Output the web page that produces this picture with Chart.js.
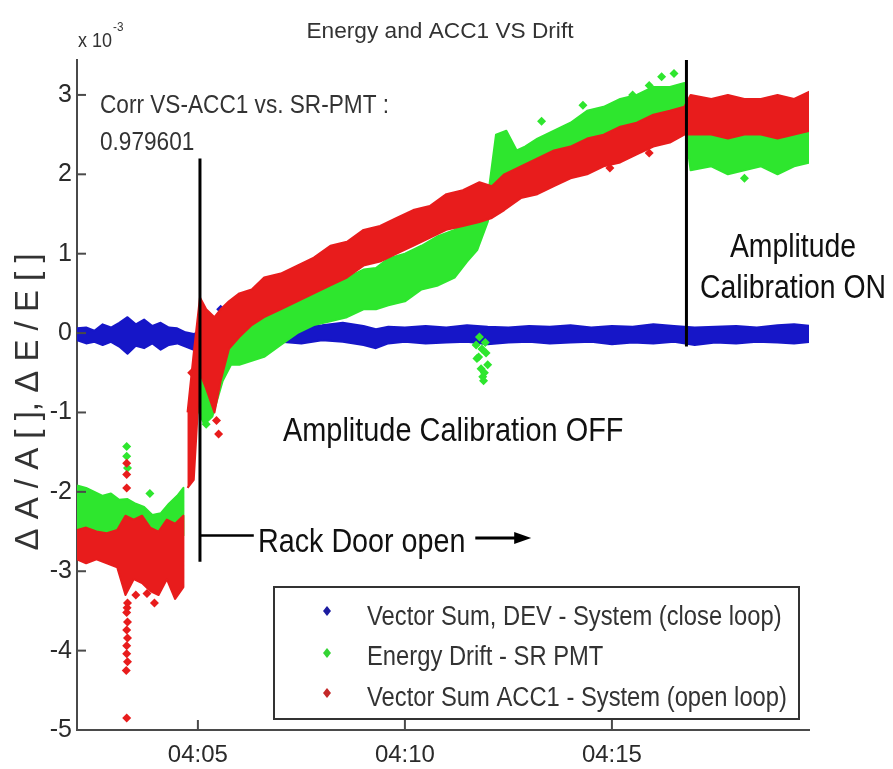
<!DOCTYPE html>
<html>
<head>
<meta charset="utf-8">
<script src="https://cdn.jsdelivr.net/npm/chart.js@4.4.1/dist/chart.umd.min.js"></script>
<style>
html, body { margin: 0; padding: 0; background: #fff; }
#wrap { width: 893px; height: 769px; }
</style>
</head>
<body>
<div id="wrap"><canvas id="drift"></canvas></div>
<script>
// Energy and ACC1 VS Drift — scatter bands drawn with Chart.js

const FONT = '"Liberation Sans", Arial, sans-serif';
Chart.defaults.font.family = FONT;

const BLUE = '#1616c8';
const GREEN = '#2ee62e';
const RED = '#e81c1c';
const INK = '#2a2a2a';
const AXIS = '#4a4a4a';

// x is minutes after 04:00, y is in units of 1e-3
const xTickValues = [5, 10, 15];
const xTickLabels = ['04:05', '04:10', '04:15'];
const yTickValues = [-5, -4, -3, -2, -1, 0, 1, 2, 3];

const seriesLabels = [
    'Vector Sum, DEV - System (close loop)',
    'Energy Drift - SR PMT',
    'Vector Sum ACC1 - System (open loop)'
];
const legendColors = ['#1c1ca0', '#34d434', '#c42828'];

// ── BLUE: Vector Sum, DEV (close loop) ───────────────────────────────────────
const blueT  = [2.08, 2.3, 2.5, 2.7, 2.9, 3.1, 3.3, 3.5, 3.7, 3.9, 4.1, 4.3, 4.5, 4.7, 4.9, 5.2, 5.6, 6.0, 6.5, 7.0, 7.5, 8.0, 8.5, 9.0, 9.3, 9.6, 10.0, 10.5, 11.0, 11.5, 12.0, 12.5, 13.0, 13.5, 14.0, 14.5, 15.0, 15.5, 16.0, 16.5, 17.0, 17.5, 18.0, 18.5, 19.0, 19.4, 19.8];
const blueHi = [0.06, 0.07, 0.03, 0.11, 0.07, 0.13, 0.2, 0.11, 0.17, 0.09, 0.13, 0.07, 0.06, 0.01, -0.01, 0.04, 0.05, 0.06, 0.07, 0.06, 0.08, 0.1, 0.13, 0.09, 0.05, 0.08, 0.07, 0.09, 0.07, 0.1, 0.08, 0.07, 0.09, 0.08, 0.1, 0.07, 0.09, 0.08, 0.11, 0.09, 0.07, 0.08, 0.09, 0.07, 0.1, 0.11, 0.09];
const blueLo = [-0.09, -0.13, -0.11, -0.15, -0.11, -0.17, -0.26, -0.16, -0.19, -0.13, -0.21, -0.15, -0.13, -0.17, -0.21, -0.13, -0.11, -0.11, -0.1, -0.11, -0.13, -0.09, -0.11, -0.15, -0.19, -0.13, -0.11, -0.13, -0.12, -0.11, -0.14, -0.12, -0.11, -0.13, -0.12, -0.11, -0.14, -0.12, -0.13, -0.11, -0.15, -0.12, -0.13, -0.11, -0.12, -0.13, -0.11];
const blueOutT = [5.55, 5.6];
const blueOutY = [0.3, 0.22];

// ── GREEN: Energy Drift - SR PMT ─────────────────────────────────────────────
const greenT1  = [2.08, 2.3, 2.5, 2.7, 2.9, 3.1, 3.3, 3.5, 3.7, 3.9, 4.1, 4.3, 4.5, 4.65];
const greenHi1 = [-1.92, -1.95, -2.0, -2.05, -2.02, -2.1, -2.09, -2.15, -2.19, -2.29, -2.27, -2.15, -2.05, -1.95];
const greenLo1 = [-2.55, -2.6, -2.6, -2.6, -2.55, -2.6, -2.6, -2.65, -2.6, -2.65, -2.6, -2.65, -2.6, -2.55];

const greenT2  = [4.95, 5.15, 5.35, 5.6, 5.8, 6.0, 6.3, 6.6, 7.0, 7.4, 7.8, 8.2, 8.6, 9.0, 9.3, 9.6, 10.0, 10.4, 10.8, 11.2, 11.5, 11.75, 12.0, 12.2, 12.45, 12.7, 12.9, 13.2, 13.6, 14.0, 14.4, 14.8, 15.2, 15.6, 16.0, 16.4, 16.75, 16.9, 17.4, 17.8, 18.2, 18.6, 19.0, 19.4, 19.8];
const greenHi2 = [-0.3, -0.4, -0.3, -0.1, 0.0, 0.2, 0.24, 0.3, 0.4, 0.46, 0.54, 0.62, 0.7, 0.8, 0.82, 0.94, 1.0, 1.1, 1.22, 1.3, 1.4, 1.5, 1.7, 2.5, 2.55, 2.3, 2.35, 2.45, 2.55, 2.65, 2.8, 2.85, 2.95, 3.0, 3.1, 3.1, 3.15, 2.6, 2.65, 2.6, 2.55, 2.62, 2.55, 2.6, 2.65];
const greenLo2 = [-0.9, -1.15, -1.05, -0.6, -0.4, -0.4, -0.35, -0.3, -0.15, 0.0, 0.1, 0.15, 0.2, 0.3, 0.3, 0.35, 0.4, 0.55, 0.6, 0.7, 0.9, 1.05, 1.4, 1.9, 1.95, 1.9, 1.95, 2.05, 2.1, 2.2, 2.3, 2.35, 2.45, 2.5, 2.6, 2.6, 2.65, 2.05, 2.1, 2.0, 2.05, 2.1, 2.0, 2.1, 2.15];

const greenOutT = [3.28, 3.28, 3.3, 3.84, 11.72, 11.78, 11.84, 11.9, 11.96, 12.0, 11.88, 11.8, 11.74, 11.94, 11.86, 11.92, 13.3, 14.3, 15.5, 15.9, 16.2, 16.5, 18.2, 5.2];
const greenOutY = [-1.43, -1.55, -1.7, -2.02, -0.15, -0.3, -0.45, -0.6, -0.25, -0.4, -0.55, -0.05, -0.32, -0.12, -0.2, -0.5, 2.67, 2.87, 3.0, 3.12, 3.23, 3.27, 1.95, -1.15];

// ── RED: Vector Sum ACC1 (open loop) ─────────────────────────────────────────
const redT1  = [2.08, 2.3, 2.55, 2.8, 3.05, 3.25, 3.45, 3.65, 3.85, 4.05, 4.25, 4.45, 4.65];
const redHi1 = [-2.48, -2.45, -2.5, -2.52, -2.48, -2.3, -2.35, -2.3, -2.45, -2.5, -2.35, -2.4, -2.3];
const redLo1 = [-2.85, -2.9, -2.85, -2.9, -2.95, -3.3, -3.1, -3.15, -3.25, -3.3, -3.1, -3.35, -3.2];

const redT2  = [4.75, 4.9, 5.05, 5.2, 5.4, 5.55, 5.75, 6.0, 6.3, 6.6, 7.0, 7.4, 7.8, 8.2, 8.6, 9.0, 9.4, 9.8, 10.2, 10.6, 11.0, 11.4, 11.8, 12.1, 12.4, 12.8, 13.2, 13.6, 14.0, 14.4, 14.8, 15.2, 15.6, 16.0, 16.4, 16.75, 16.9, 17.4, 17.8, 18.2, 18.6, 19.0, 19.4, 19.8];
const redHi2 = [-1.0, -0.25, 0.45, 0.3, 0.2, 0.3, 0.4, 0.5, 0.55, 0.7, 0.75, 0.85, 0.95, 1.1, 1.15, 1.3, 1.35, 1.45, 1.55, 1.6, 1.75, 1.8, 1.9, 1.85, 2.0, 2.1, 2.2, 2.3, 2.35, 2.45, 2.5, 2.6, 2.65, 2.75, 2.8, 2.85, 3.0, 2.95, 3.0, 2.95, 2.95, 3.0, 2.95, 3.05];
const redLo2 = [-1.95, -1.85, -0.5, -0.7, -1.0, -0.6, -0.2, -0.05, 0.1, 0.2, 0.3, 0.4, 0.5, 0.6, 0.7, 0.85, 0.9, 1.0, 1.1, 1.2, 1.3, 1.35, 1.4, 1.45, 1.55, 1.7, 1.75, 1.85, 1.95, 2.0, 2.1, 2.15, 2.25, 2.35, 2.4, 2.5, 2.5, 2.5, 2.45, 2.5, 2.5, 2.45, 2.5, 2.55];

const redOutT = [3.28, 3.28, 3.28, 3.3, 3.28, 3.3, 3.28, 3.3, 3.28, 3.28, 3.3, 3.28, 3.29, 3.27, 3.5, 3.77, 3.95, 5.45, 5.5, 14.95, 15.9, 4.85, 4.9];
const redOutY = [-1.64, -1.78, -1.95, -3.4, -3.52, -3.64, -3.74, -3.84, -3.94, -4.04, -4.14, -4.85, -3.46, -4.25, -3.3, -3.28, -3.4, -1.1, -1.27, 2.08, 2.27, -0.5, -0.8];

// annotation anchors (data coords)
const doorLine = { x: 5.05, top: 2.2, bottom: -2.88, armY: -2.55, armX: 6.35 };
const calLine = { x: 16.8, top: 3.44, bottom: -0.17 };
const doorArrow = { y: -2.58, from: 11.7, to: 13.05 };

const pts = (t, v) => t.map((x, i) => ({ x, y: v[i] }));

function scatter(t, v, color, order) {
    return { type: 'scatter', data: pts(t, v), backgroundColor: color, borderWidth: 0, pointStyle: 'rectRot', pointRadius: 4.5, order };
}

// a noisy cloud: one closed outline (hi forward, lo back) filled as a shape
function band(t, hi, lo, color, order) {
    const outline = [...pts(t, hi), ...pts(t, lo).reverse()];
    return { type: 'line', data: outline, fill: 'shape', borderColor: color, backgroundColor: color, borderWidth: 2, borderJoinStyle: 'round', pointRadius: 0, tension: 0, order };
}

function drawText(ctx, str, x, y, size, sx, align, color) {
    ctx.save();
    ctx.font = `${size}px ${FONT}`;
    ctx.fillStyle = color || INK;
    ctx.textAlign = align || 'left';
    ctx.textBaseline = 'alphabetic';
    ctx.translate(x, y);
    ctx.scale(sx, 1);
    ctx.fillText(str, 0, 0);
    ctx.restore();
}

function line(ctx, x0, y0, x1, y1) {
    ctx.beginPath();
    ctx.moveTo(x0, y0);
    ctx.lineTo(x1, y1);
    ctx.stroke();
}

const decor = {
    id: 'decor',
    beforeDraw(chart) {
        const { ctx, width, height } = chart;
        ctx.save();
        ctx.fillStyle = '#fff';
        ctx.fillRect(0, 0, width, height);
        ctx.restore();
    },
    afterDraw(chart) {
        const { ctx, chartArea: a } = chart;
        const x = chart.scales.x, y = chart.scales.y;
        ctx.save();

        // inward tick marks
        ctx.strokeStyle = AXIS;
        ctx.lineWidth = 2;
        yTickValues.forEach(v => { const py = y.getPixelForValue(v); line(ctx, a.left, py, a.left + 9, py); });
        xTickValues.forEach(v => { const px = x.getPixelForValue(v); line(ctx, px, a.bottom, px, a.bottom - 10); });

        // marker lines
        ctx.strokeStyle = '#000';
        ctx.lineWidth = 3;
        const dx = x.getPixelForValue(doorLine.x);
        line(ctx, dx, y.getPixelForValue(doorLine.top), dx, y.getPixelForValue(doorLine.bottom));
        ctx.lineWidth = 2.5;
        const ay = y.getPixelForValue(doorLine.armY);
        line(ctx, dx, ay, x.getPixelForValue(doorLine.armX), ay);
        ctx.lineWidth = 3;
        const cx = x.getPixelForValue(calLine.x);
        line(ctx, cx, y.getPixelForValue(calLine.top), cx, y.getPixelForValue(calLine.bottom));

        // arrow after "Rack Door open"
        const ry = y.getPixelForValue(doorArrow.y);
        const r0 = x.getPixelForValue(doorArrow.from), r1 = x.getPixelForValue(doorArrow.to);
        line(ctx, r0, ry, r1 - 12, ry);
        ctx.fillStyle = '#000';
        ctx.beginPath();
        ctx.moveTo(r1, ry);
        ctx.lineTo(r1 - 17, ry - 6);
        ctx.lineTo(r1 - 17, ry + 6);
        ctx.closePath();
        ctx.fill();

        // texts
        drawText(ctx, 'Energy and ACC1 VS Drift', 440, 38, 22, 1.03, 'center', '#333');
        drawText(ctx, 'x 10', 78, 47, 20, 0.9, 'left', '#333');
        drawText(ctx, '-3', 113, 31, 13, 0.9, 'left', '#333');
        drawText(ctx, 'Corr VS-ACC1 vs. SR-PMT :', 100, 113, 26, 0.87, 'left', '#333');
        drawText(ctx, '0.979601', 100, 150, 26, 0.87, 'left', '#333');
        drawText(ctx, 'Amplitude Calibration OFF', 283, 441, 34, 0.85, 'left', '#111');
        drawText(ctx, 'Rack Door open', 258, 552, 33, 0.87, 'left', '#111');
        drawText(ctx, 'Amplitude', 793, 257, 33, 0.86, 'center', '#111');
        drawText(ctx, 'Calibration ON', 793, 298, 33, 0.86, 'center', '#111');

        // y axis title
        ctx.save();
        ctx.translate(38, 402);
        ctx.rotate(-Math.PI / 2);
        drawText(ctx, 'Δ A / A [ ], Δ E / E [ ]', 0, 0, 33, 1, 'center', '#333');
        ctx.restore();

        // legend box
        ctx.strokeStyle = '#333';
        ctx.lineWidth = 2;
        ctx.strokeRect(274, 587, 525, 132);
        const rowMarker = [611, 653, 693];
        const rowText = [625, 665, 706];
        seriesLabels.forEach((lab, i) => {
            ctx.fillStyle = legendColors[i];
            ctx.beginPath();
            ctx.moveTo(327, rowMarker[i] - 5);
            ctx.lineTo(331, rowMarker[i]);
            ctx.lineTo(327, rowMarker[i] + 5);
            ctx.lineTo(323, rowMarker[i]);
            ctx.closePath();
            ctx.fill();
            drawText(ctx, lab, 367, rowText[i], 27, 0.88, 'left', '#333');
        });

        ctx.restore();
    }
};

const datasets = [
    band(blueT, blueHi, blueLo, BLUE, 3),
    scatter(blueOutT, blueOutY, BLUE, 3),
    band(greenT1, greenHi1, greenLo1, GREEN, 2),
    band(greenT2, greenHi2, greenLo2, GREEN, 2),
    scatter(greenOutT, greenOutY, GREEN, 2),
    band(redT1, redHi1, redLo1, RED, 1),
    band(redT2, redHi2, redLo2, RED, 1),
    scatter(redOutT, redOutY, RED, 1)
];

new Chart(document.getElementById('drift'), {
    type: 'scatter',
    data: { datasets },
    options: {
        responsive: true, maintainAspectRatio: false,
        animation: false,
        events: [],
        layout: { padding: { top: 60, right: 84, left: 0, bottom: 0 } },
        plugins: { legend: { display: false }, tooltip: { enabled: false } },
        scales: {
            x: {
                type: 'linear', min: 2.08, max: 19.76,
                afterBuildTicks: s => { s.ticks = xTickValues.map(v => ({ value: v })); },
                afterFit: s => { s.height = 39; },
                grid: { drawOnChartArea: false, drawTicks: false },
                border: { display: true, color: AXIS, width: 2 },
                ticks: {
                    padding: 11, color: INK, font: { size: 24 }, maxRotation: 0, autoSkip: false,
                    callback: v => xTickLabels[xTickValues.indexOf(v)]
                }
            },
            y: {
                min: -5, max: 3.44,
                afterBuildTicks: s => { s.ticks = yTickValues.map(v => ({ value: v })); },
                afterFit: s => { s.width = 77; },
                grid: { drawOnChartArea: false, drawTicks: false },
                border: { display: true, color: AXIS, width: 2 },
                ticks: { padding: 5, color: INK, font: { size: 25 }, autoSkip: false, callback: v => String(v) }
            }
        }
    },
    plugins: [decor]
});
</script>
</body>
</html>
